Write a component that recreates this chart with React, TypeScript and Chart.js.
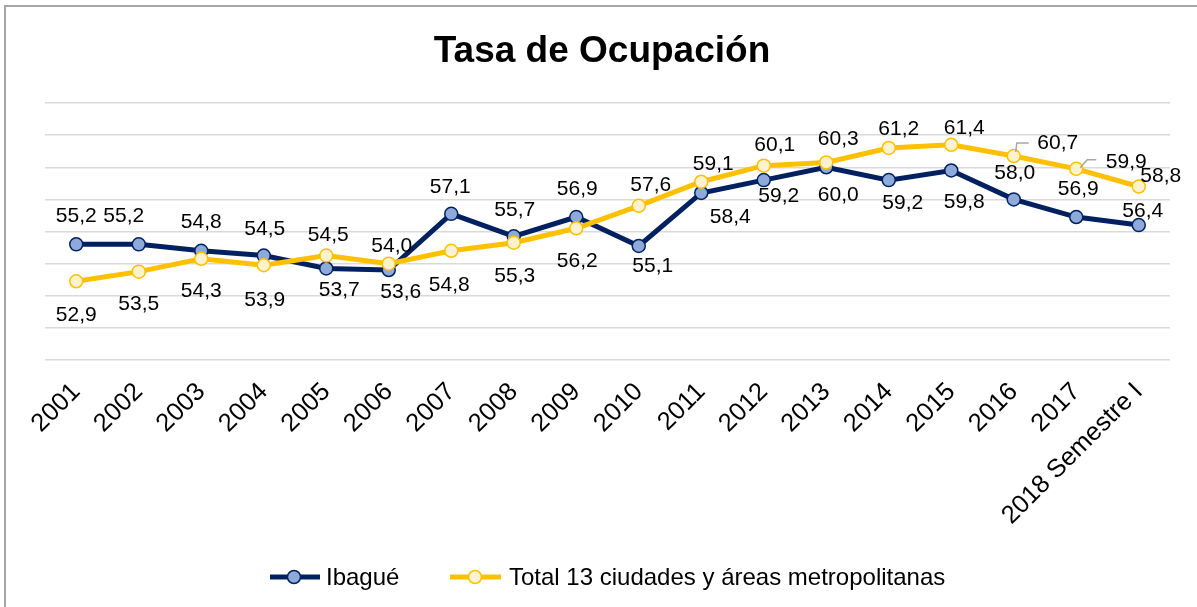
import React, { useEffect, useRef } from 'react';
import { Chart, registerables } from 'chart.js';

Chart.register(...registerables);

const categories = ['2001', '2002', '2003', '2004', '2005', '2006', '2007', '2008', '2009', '2010', '2011', '2012', '2013', '2014', '2015', '2016', '2017', '2018 Semestre I'];
const ibague = [55.2, 55.2, 54.8, 54.5, 53.7, 53.6, 57.1, 55.7, 56.9, 55.1, 58.4, 59.2, 60.0, 59.2, 59.8, 58.0, 56.9, 56.4];
const total13 = [52.9, 53.5, 54.3, 53.9, 54.5, 54.0, 54.8, 55.3, 56.2, 57.6, 59.1, 60.1, 60.3, 61.2, 61.4, 60.7, 59.9, 58.8];
const seriesNames = ['Ibagué', 'Total 13 ciudades y áreas metropolitanas'];
const titleText = 'Tasa de Ocupación';
const yMin = 48;
const yMax = 64;
const yStep = 2;

// label placement offsets (pixels from the point)
const ibagueLabelOffsets = [[0, -29], [-15, -29], [0, -29.5], [1, -27.5], [13, 21], [12, 21.5], [-1, -28], [1, -27.5], [1, -28.5], [14, 19.5], [29, 23.5], [15, 15], [12, 26.5], [14, 22.5], [13, 30.5], [1, -27.5], [2, -28.5], [4, -15]];
const totalLabelOffsets = [[0, 32.5], [0, 31.5], [0, 31], [1, 33.5], [2, -21.5], [3, -18], [-2, 33.5], [1, 32.5], [1, 31.5], [12, -21.5], [12, -18.5], [11, -21.5], [12, -24.5], [10, -19.5], [13, -17.5], [44, -13.5], [50, -7.5], [22, -11]];
const totalLeaders: Record<number, number[][]> = {
  15: [[2, -4], [3, -13], [15, -13]],
  16: [[4, -1], [11, -9], [20, -9]],
};

const FONT = '"Liberation Sans", Arial, sans-serif';
const NAVY = '#002060';
const NAVY_FILL = '#8eaadb';
const GOLD = '#ffc000';
const GOLD_FILL = '#fff2cc';

const bgPlugin = {
  id: 'bgBorder',
  beforeDraw(chart: any) {
    const c = chart.ctx;
    c.save();
    c.fillStyle = '#ffffff';
    c.fillRect(0, 0, chart.width, chart.height);
    c.fillStyle = '#a6a6a6';
    c.fillRect(4, 5, chart.width - 4, 2);
    c.fillRect(4, 5, 2, chart.height - 5);
    c.restore();
  },
};

const titlePlugin = {
  id: 'customTitle',
  afterDraw(chart: any) {
    const c = chart.ctx;
    c.save();
    c.font = `bold 37px ${FONT}`;
    c.fillStyle = '#000';
    c.textAlign = 'center';
    c.textBaseline = 'alphabetic';
    c.fillText(titleText, 602, 62);
    c.restore();
  },
};

const labelPlugin = {
  id: 'pointLabels',
  afterDatasetsDraw(chart: any) {
    const c = chart.ctx;
    const offsetsList = [ibagueLabelOffsets, totalLabelOffsets];
    c.save();
    const metaT = chart.getDatasetMeta(1);
    c.strokeStyle = '#a6a6a6';
    c.lineWidth = 1.5;
    Object.keys(totalLeaders).forEach((k) => {
      const i = Number(k);
      const el = metaT.data[i];
      const pts = totalLeaders[i];
      c.beginPath();
      pts.forEach((p, j) => {
        if (j === 0) c.moveTo(el.x + p[0], el.y + p[1]);
        else c.lineTo(el.x + p[0], el.y + p[1]);
      });
      c.stroke();
    });
    c.font = `21px ${FONT}`;
    c.fillStyle = '#000';
    c.textAlign = 'center';
    c.textBaseline = 'middle';
    chart.data.datasets.forEach((ds: any, d: number) => {
      const meta = chart.getDatasetMeta(d);
      const offs = offsetsList[d];
      meta.data.forEach((el: any, i: number) => {
        const v = ds.data[i] as number;
        const txt = v.toFixed(1).replace('.', ',');
        c.fillText(txt, el.x + offs[i][0], el.y + offs[i][1] + 1);
      });
    });
    c.restore();
  },
};

const legendPlugin = {
  id: 'customLegend',
  afterDraw(chart: any) {
    const c = chart.ctx;
    const y = 577;
    const items = [
      { x0: 270, x1: 320, cx: 294, tx: 326, line: NAVY, fill: NAVY_FILL, border: NAVY, text: seriesNames[0] },
      { x0: 450, x1: 501, cx: 475, tx: 509, line: GOLD, fill: GOLD_FILL, border: GOLD, text: seriesNames[1] },
    ];
    c.save();
    items.forEach((it) => {
      c.strokeStyle = it.line;
      c.lineWidth = 5;
      c.beginPath();
      c.moveTo(it.x0, y);
      c.lineTo(it.x1, y);
      c.stroke();
      c.beginPath();
      c.arc(it.cx, y, 6.5, 0, Math.PI * 2);
      c.fillStyle = it.fill;
      c.fill();
      c.lineWidth = 1.5;
      c.strokeStyle = it.border;
      c.stroke();
      c.font = `24px ${FONT}`;
      c.fillStyle = '#000';
      c.textAlign = 'left';
      c.textBaseline = 'middle';
      c.fillText(it.text, it.tx, y + 1);
    });
    c.restore();
  },
};

export default function App() {
  const ref = useRef<HTMLCanvasElement | null>(null);
  useEffect(() => {
    if (!ref.current) return;
    const chart = new Chart(ref.current, {
      type: 'line',
      data: {
        labels: categories,
        datasets: [
          {
            label: seriesNames[0],
            data: ibague,
            borderColor: NAVY,
            backgroundColor: NAVY_FILL,
            borderWidth: 5,
            pointRadius: 6.5,
            pointBorderWidth: 1.5,
            pointBackgroundColor: NAVY_FILL,
            pointBorderColor: NAVY,
            tension: 0,
            order: 1,
          },
          {
            label: seriesNames[1],
            data: total13,
            borderColor: GOLD,
            backgroundColor: GOLD_FILL,
            borderWidth: 5,
            pointRadius: 6.5,
            pointBorderWidth: 1.5,
            pointBackgroundColor: GOLD_FILL,
            pointBorderColor: GOLD,
            tension: 0,
            order: 0,
          },
        ],
      },
      options: {
        animation: false,
        responsive: false,
        maintainAspectRatio: false,
        events: [],
        layout: { padding: { top: 103, left: 45, right: 27, bottom: 0 } },
        plugins: {
          legend: { display: false },
          title: { display: false },
          tooltip: { enabled: false },
        },
        scales: {
          x: {
            type: 'category',
            offset: true,
            grid: { display: false, drawTicks: false },
            border: { display: false },
            ticks: {
              color: '#000',
              font: { family: FONT, size: 25.5 },
              maxRotation: 45,
              minRotation: 45,
              autoSkip: false,
              padding: 17,
            },
            afterFit: (s: any) => {
              s.height = 247;
            },
          },
          y: {
            min: yMin,
            max: yMax,
            ticks: { display: false, stepSize: yStep },
            grid: { color: '#d9d9d9', lineWidth: 1.5, drawTicks: false },
            border: { display: false },
            afterFit: (s: any) => {
              s.width = 0;
            },
          },
        },
      },
      plugins: [bgPlugin, titlePlugin, labelPlugin, legendPlugin],
    } as any);
    return () => chart.destroy();
  }, []);
  return (
    <div style={{ position: 'absolute', left: 0, top: 0, width: 1197, height: 607 }}>
      <canvas ref={ref} width={1197} height={607} style={{ width: 1197, height: 607 }} />
    </div>
  );
}
